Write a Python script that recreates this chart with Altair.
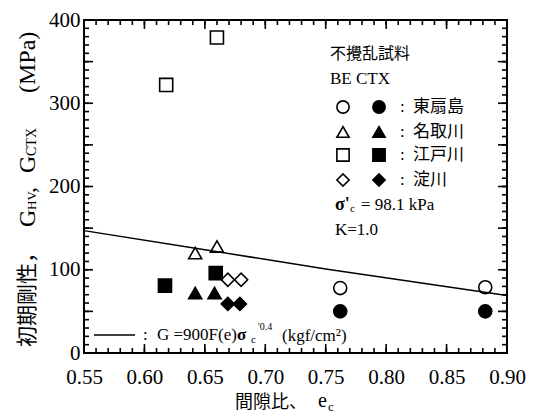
import altair as alt
import pandas as pd

# ---------------- data ----------------
sites = ["東扇島", "名取川", "江戸川", "淀川"]
site_shapes = ["circle", "triangle-up", "square", "diamond"]

be_site = ["東扇島", "東扇島", "名取川", "名取川", "江戸川", "江戸川", "淀川", "淀川"]
be_e = [0.762, 0.882, 0.642, 0.660, 0.618, 0.660, 0.669, 0.680]
be_g = [78, 79, 120, 128, 322, 379, 88, 88]

ctx_site = ["東扇島", "東扇島", "名取川", "名取川", "江戸川", "江戸川", "淀川", "淀川"]
ctx_e = [0.762, 0.882, 0.642, 0.658, 0.617, 0.659, 0.669, 0.679]
ctx_g = [50, 50, 72, 72, 81, 96, 59, 59]

line_e = [0.55, 0.65, 0.75, 0.90]
line_g = [147, 124, 101, 69]

x_labels = [0.55, 0.60, 0.65, 0.70, 0.75, 0.80, 0.85, 0.90]
y_labels = [0, 100, 200, 300, 400]
x_minor = [round(0.55 + 0.01 * i, 2) for i in range(36)]
x_major = x_labels
y_minor = [10 * i for i in range(41)]
y_major = [50 * i for i in range(9)]

# ---------------- layout constants ----------------
W, H = 423, 333
SERIF = "Liberation Serif"
CJK = "Noto Sans CJK JP"

xs = alt.Scale(domain=[0.55, 0.90], nice=False, zero=False)
ys = alt.Scale(domain=[0, 400], nice=False, zero=False)
x_axis = alt.Axis(values=x_labels, format=".2f", ticks=False, domain=False, grid=False,
                  title=None, labelFont=SERIF, labelFontSize=21, labelColor="black",
                  labelPadding=13, labelFlush=False)
y_axis = alt.Axis(values=y_labels, format="d", ticks=False, domain=False, grid=False,
                  title=None, labelFont=SERIF, labelFontSize=21, labelColor="black",
                  labelPadding=4, labelFlush=False)

pts = pd.DataFrame({
    "e": be_e + ctx_e,
    "G": be_g + ctx_g,
    "site": be_site + ctx_site,
    "kind": ["BE"] * len(be_e) + ["CTX"] * len(ctx_e),
})

shape_scale = alt.Scale(domain=sites, range=site_shapes)
fill_scale = alt.Scale(domain=["BE", "CTX"], range=["white", "black"])

points = alt.Chart(pts).mark_point(filled=True, size=170, stroke="black", strokeWidth=1.6, opacity=1).encode(
    x=alt.X("e:Q", scale=xs, axis=x_axis), y=alt.Y("G:Q", scale=ys, axis=y_axis),
    shape=alt.Shape("site:N", scale=shape_scale, legend=None),
    fill=alt.Fill("kind:N", scale=fill_scale, legend=None),
)

line = alt.Chart(pd.DataFrame({"e": line_e, "G": line_g})).mark_line(color="black", strokeWidth=1.5).encode(
    x=alt.X("e:Q", scale=xs), y=alt.Y("G:Q", scale=ys))


def xticks(vals, length, bottom=True):
    d = pd.DataFrame({"tx": vals})
    y0, y1 = (H, H - length) if bottom else (0, length)
    return alt.Chart(d).mark_rule(color="#000000", strokeWidth=1.6, opacity=1).encode(
        x=alt.X("tx:Q", scale=xs), y=alt.value(y0), y2=alt.value(y1))


def yticks(vals, length, left=True):
    d = pd.DataFrame({"ty": vals})
    x0, x1 = (0, length) if left else (W, W - length)
    return alt.Chart(d).mark_rule(color="#000000", strokeWidth=1.6, opacity=1).encode(
        y=alt.Y("ty:Q", scale=ys), x=alt.value(x0), x2=alt.value(x1))


ticks = [
    xticks(x_minor, 5, True), xticks(x_major, 9, True),
    xticks(x_minor, 5, False), xticks(x_major, 9, False),
    yticks(y_minor, 5, True), yticks(y_major, 9, True),
    yticks(y_minor, 5, False), yticks(y_major, 9, False),
]

one = pd.DataFrame({"a": [0]})


def txt(s, x, y, size, font=SERIF, angle=0, align="left", baseline="middle", weight="normal"):
    kw = dict(text=s, fontSize=size, font=font, align=align, baseline=baseline, color="black", fontWeight=weight)
    if angle:
        kw["angle"] = angle
    return alt.Chart(one).mark_text(**kw).encode(x=alt.value(x), y=alt.value(y))


texts = []
# y-axis title (rotated)
YX = -56
texts += [
    txt("初期剛性，", YX, 327, 21, CJK, 270),
    txt("G", YX, 207, 24, SERIF, 270),
    txt("HV", YX + 4, 190, 13, SERIF, 270),
    txt(",", YX, 173, 24, SERIF, 270),
    txt("G", YX, 153, 24, SERIF, 270),
    txt("CTX", YX + 4, 136, 14, SERIF, 270),
    txt("(MPa)", YX, 73, 24, SERIF, 270),
]
# x-axis title
texts += [
    txt("間隙比、", 151, 383, 18, CJK),
    txt("e", 234, 381, 20, SERIF),
    txt("c", 244, 387, 13, SERIF),
]
# legend block (top right)
LX = 246
texts += [
    txt("不攪乱試料", LX, 34, 16, CJK),
    txt("BE CTX", LX, 59, 17, SERIF),
    txt("σ'", 251, 185, 18, SERIF, weight="bold"),
    txt("c", 266, 189, 11, SERIF),
    txt("= 98.1 kPa", 277, 185, 17, SERIF),
    txt("K=1.0", 251, 210, 17, SERIF),
]
row_y = [87, 112, 135, 160]
legend_marks = []
for s, shp, yy in zip(sites, site_shapes, row_y):
    texts += [txt(":", 316, yy, 17, SERIF), txt(s, 329, yy, 17, CJK)]
    for fx, fc in ((259, "white"), (295, "black")):
        legend_marks.append(
            alt.Chart(one).mark_point(shape=shp, filled=True, fill=fc, size=150, stroke="black",
                                      strokeWidth=1.6, opacity=1).encode(x=alt.value(fx), y=alt.value(yy)))

# formula legend (bottom left)
formula_line = alt.Chart(one).mark_rule(color="black", strokeWidth=1.5).encode(
    x=alt.value(10), x2=alt.value(51), y=alt.value(315))
texts += [
    txt(":", 59, 315, 17, SERIF),
    txt("G =900F(e)", 73, 315, 17, SERIF),
    txt("σ", 153, 315, 17, SERIF, weight="bold"),
    txt("c", 167, 320, 11, SERIF),
    txt("'0.4", 174, 307, 10, SERIF),
    txt("(kgf/cm²)", 198, 316, 17, SERIF),
]

chart = alt.layer(points, line, *legend_marks, formula_line, *texts, *ticks).properties(
    width=W, height=H,
    padding={"left": 84, "top": 20, "right": 32, "bottom": 66},
    autosize=alt.AutoSizeParams(type="none"),
    background="white",
).configure_view(stroke="black", strokeWidth=2)

chart.save("out.html", embed_options={"renderer": "svg", "actions": False})
